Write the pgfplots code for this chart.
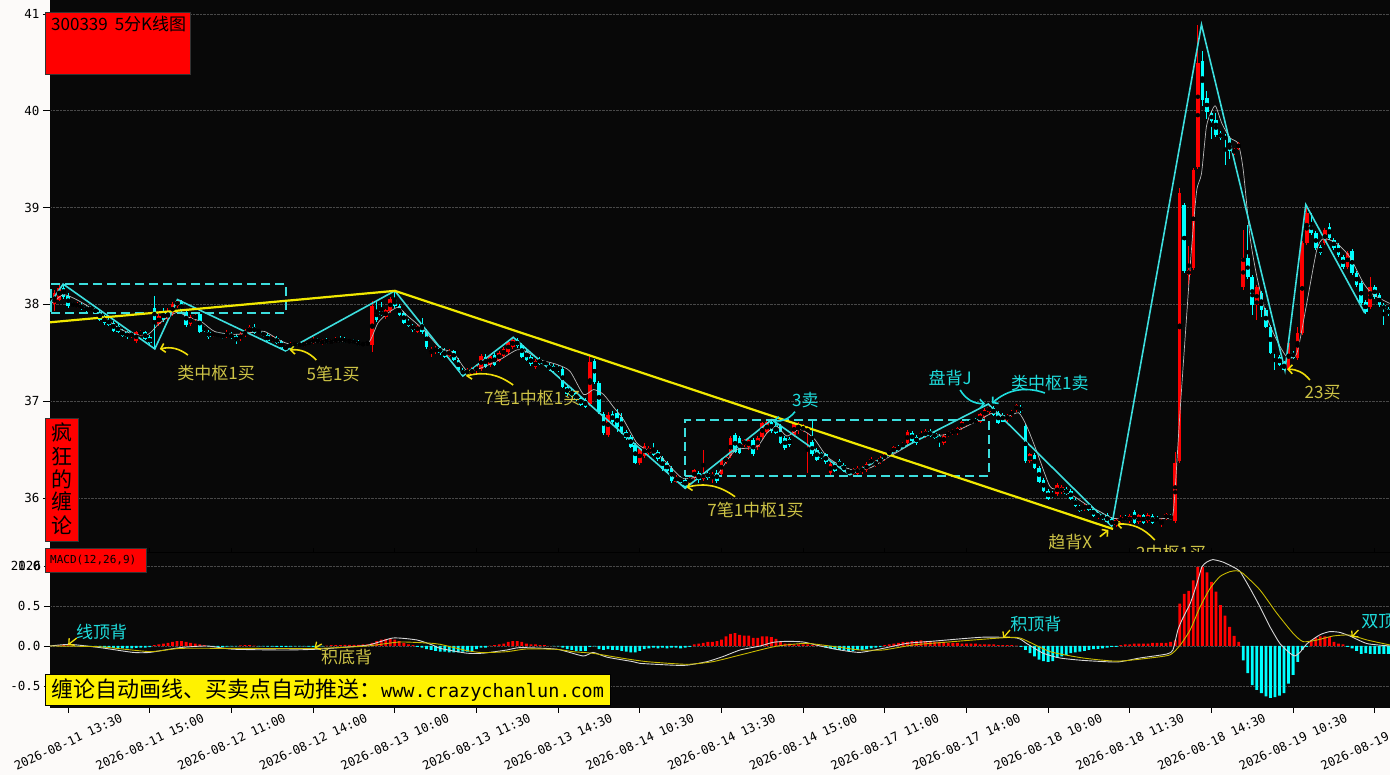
\documentclass[border=0pt]{standalone}
\usepackage{fontspec}
\setmainfont{Noto Sans CJK SC}
\newfontfamily\monofont{DejaVu Sans Mono}
\usepackage{pgfplots}
\pgfplotsset{compat=1.18}
\usepackage{pgfplotstable}
\usetikzlibrary{arrows.meta}

\definecolor{bg}{RGB}{252,250,249}
\definecolor{panel}{RGB}{8,8,8}
\definecolor{kred}{RGB}{255,0,0}
\definecolor{kcyan}{RGB}{0,255,255}
\definecolor{bicyan}{RGB}{60,222,222}
\definecolor{trend}{RGB}{240,232,0}
\definecolor{arrowy}{RGB}{240,222,10}
\definecolor{laby}{RGB}{205,195,70}
\definecolor{labc}{RGB}{30,222,222}
\definecolor{gridc}{RGB}{72,72,72}
\definecolor{maline}{RGB}{185,185,185}
\definecolor{difc}{RGB}{215,215,215}
\definecolor{deac}{RGB}{200,185,0}

\pgfplotstableread{
i o h l c
1 38.00 38.15 37.93 38.12
2 38.05 38.21 38.03 38.17
3 38.17 38.21 38.06 38.08
4 38.09 38.12 37.96 37.98
5 38.01 38.03 37.97 37.98
6 37.98 38.02 37.96 38.00
7 37.99 38.01 37.94 37.96
8 37.97 37.99 37.92 37.94
9 37.96 37.98 37.93 37.95
10 37.96 37.97 37.90 37.91
11 37.92 37.94 37.83 37.84
12 37.87 37.89 37.79 37.81
13 37.84 37.86 37.78 37.79
14 37.81 37.83 37.72 37.73
15 37.78 37.80 37.70 37.71
16 37.73 37.75 37.66 37.67
17 37.71 37.73 37.64 37.66
18 37.67 37.72 37.65 37.70
19 37.62 37.73 37.60 37.71
20 37.69 37.74 37.67 37.72
21 37.71 37.73 37.63 37.64
22 37.66 37.68 37.58 37.60
23 37.96 38.09 37.54 37.84
24 37.80 37.90 37.78 37.88
25 37.92 37.96 37.82 37.84
26 37.85 37.96 37.83 37.92
27 37.90 38.02 37.88 38.00
28 37.98 38.06 37.96 38.04
29 38.03 38.05 37.90 37.93
30 37.92 37.95 37.77 37.79
31 37.80 37.89 37.78 37.87
32 37.85 37.91 37.83 37.89
33 37.90 37.92 37.70 37.71
34 37.76 37.78 37.72 37.73
35 37.72 37.74 37.64 37.66
36 37.68 37.72 37.66 37.71
37 37.70 37.71 37.66 37.67
38 37.69 37.70 37.64 37.66
39 37.67 37.74 37.65 37.70
40 37.69 37.71 37.64 37.66
41 37.67 37.69 37.59 37.62
42 37.64 37.71 37.62 37.69
43 37.68 37.75 37.66 37.72
44 37.71 37.79 37.69 37.77
45 37.77 37.80 37.69 37.70
46 37.73 37.75 37.70 37.71
47 37.71 37.73 37.66 37.67
48 37.68 37.70 37.61 37.62
49 37.63 37.67 37.61 37.65
50 37.65 37.67 37.59 37.60
51 37.62 37.63 37.53 37.54
52 37.54 37.58 37.52 37.57
53 37.56 37.61 37.55 37.59
54 37.58 37.61 37.56 37.60
55 37.60 37.61 37.56 37.57
56 37.57 37.62 37.56 37.60
57 37.59 37.63 37.58 37.62
58 37.60 37.66 37.59 37.64
59 37.63 37.65 37.60 37.61
60 37.60 37.64 37.58 37.63
61 37.63 37.65 37.59 37.60
62 37.60 37.64 37.59 37.63
63 37.61 37.66 37.60 37.64
64 37.64 37.67 37.60 37.61
65 37.64 37.66 37.60 37.61
66 37.61 37.64 37.60 37.63
67 37.63 37.64 37.59 37.60
68 37.61 37.63 37.57 37.58
69 37.60 37.61 37.57 37.58
70 37.60 37.62 37.58 37.59
71 37.58 38.03 37.51 37.98
72 37.94 38.03 37.82 37.84
73 37.93 38.02 37.88 37.89
74 37.87 37.95 37.85 37.94
75 37.93 38.08 37.91 38.06
76 38.06 38.14 37.96 37.98
77 37.98 38.00 37.88 37.89
78 37.91 37.93 37.80 37.81
79 37.83 37.85 37.77 37.78
80 37.78 37.80 37.72 37.74
81 37.72 37.80 37.70 37.78
82 37.80 37.86 37.69 37.71
83 37.73 37.75 37.54 37.56
84 37.50 37.56 37.46 37.54
85 37.51 37.57 37.49 37.55
86 37.55 37.57 37.48 37.50
87 37.52 37.55 37.45 37.46
88 37.47 37.54 37.46 37.52
89 37.52 37.53 37.42 37.43
90 37.43 37.45 37.31 37.32
91 37.32 37.34 37.26 37.28
92 37.28 37.34 37.27 37.32
93 37.28 37.35 37.27 37.33
94 37.31 37.38 37.29 37.36
95 37.33 37.49 37.31 37.47
96 37.46 37.49 37.34 37.35
97 37.37 37.49 37.35 37.47
98 37.48 37.50 37.36 37.37
99 37.42 37.52 37.40 37.50
100 37.47 37.56 37.45 37.54
101 37.51 37.63 37.49 37.61
102 37.56 37.66 37.54 37.63
103 37.63 37.65 37.55 37.57
104 37.58 37.60 37.45 37.46
105 37.52 37.54 37.42 37.43
106 37.46 37.48 37.36 37.38
107 37.35 37.44 37.33 37.42
108 37.44 37.46 37.37 37.38
109 37.41 37.43 37.37 37.38
110 37.37 37.39 37.31 37.33
111 37.36 37.38 37.29 37.31
112 37.35 37.37 37.30 37.32
113 37.33 37.35 37.14 37.15
114 37.15 37.17 37.05 37.07
115 37.11 37.13 37.04 37.05
116 37.08 37.10 37.00 37.01
117 37.03 37.05 36.95 36.96
118 37.01 37.03 36.93 36.94
119 36.97 37.48 36.95 37.41
120 37.42 37.44 37.18 37.20
121 37.19 37.21 36.87 36.89
122 36.87 36.89 36.65 36.67
123 36.65 36.89 36.63 36.86
124 36.87 36.90 36.76 36.79
125 36.88 36.92 36.68 36.73
126 36.84 36.88 36.66 36.68
127 36.68 36.70 36.60 36.62
128 36.63 36.65 36.52 36.53
129 36.55 36.57 36.35 36.36
130 36.36 36.53 36.34 36.51
131 36.43 36.57 36.41 36.54
132 36.46 36.54 36.44 36.52
133 36.52 36.57 36.43 36.44
134 36.48 36.50 36.38 36.40
135 36.41 36.43 36.28 36.30
136 36.36 36.38 36.26 36.28
137 36.31 36.33 36.16 36.18
138 36.17 36.24 36.15 36.22
139 36.21 36.23 36.15 36.16
140 36.19 36.21 36.10 36.11
141 36.16 36.22 36.14 36.21
142 36.21 36.30 36.19 36.29
143 36.26 36.28 36.15 36.19
144 36.20 36.50 36.18 36.25
145 36.26 36.28 36.19 36.21
146 36.20 36.27 36.16 36.25
147 36.26 36.29 36.15 36.18
148 36.25 36.41 36.22 36.39
149 36.37 36.44 36.35 36.42
150 36.43 36.64 36.41 36.62
151 36.65 36.67 36.46 36.48
152 36.62 36.64 36.45 36.46
153 36.55 36.61 36.53 36.60
154 36.53 36.62 36.50 36.60
155 36.60 36.62 36.43 36.45
156 36.53 36.64 36.50 36.62
157 36.63 36.78 36.61 36.77
158 36.68 36.80 36.66 36.79
159 36.79 36.81 36.67 36.69
160 36.74 36.77 36.66 36.67
161 36.74 36.76 36.56 36.57
162 36.62 36.64 36.50 36.52
163 36.61 36.63 36.53 36.55
164 36.65 36.79 36.63 36.77
165 36.72 36.78 36.66 36.75
166 36.70 36.76 36.68 36.74
167 36.68 36.74 36.26 36.72
168 36.58 36.81 36.43 36.45
169 36.50 36.52 36.38 36.39
170 36.46 36.48 36.40 36.41
171 36.45 36.47 36.35 36.37
172 36.26 36.37 36.24 36.35
173 36.35 36.37 36.27 36.28
174 36.38 36.40 36.31 36.32
175 36.34 36.36 36.27 36.28
176 36.29 36.31 36.24 36.25
177 36.25 36.31 36.24 36.29
178 36.25 36.33 36.24 36.31
179 36.27 36.33 36.25 36.31
180 36.29 36.37 36.27 36.35
181 36.36 36.42 36.34 36.40
182 36.34 36.39 36.32 36.38
183 36.37 36.43 36.35 36.41
184 36.40 36.47 36.38 36.45
185 36.45 36.50 36.43 36.49
186 36.47 36.54 36.45 36.53
187 36.53 36.55 36.48 36.50
188 36.53 36.58 36.51 36.57
189 36.57 36.70 36.55 36.68
190 36.67 36.69 36.58 36.59
191 36.63 36.65 36.55 36.57
192 36.63 36.69 36.61 36.67
193 36.64 36.71 36.62 36.69
194 36.69 36.71 36.63 36.64
195 36.67 36.69 36.61 36.62
196 36.64 36.66 36.53 36.59
197 36.57 36.66 36.55 36.64
198 36.65 36.69 36.63 36.68
199 36.67 36.71 36.65 36.70
200 36.67 36.73 36.65 36.72
201 36.72 36.80 36.70 36.79
202 36.75 36.82 36.73 36.80
203 36.80 36.82 36.76 36.77
204 36.81 36.83 36.76 36.77
205 36.79 36.88 36.77 36.87
206 36.84 36.93 36.82 36.91
207 36.89 36.97 36.87 36.94
208 36.93 36.95 36.85 36.86
209 36.88 36.90 36.76 36.77
210 36.86 36.88 36.78 36.79
211 36.81 36.87 36.79 36.85
212 36.86 36.91 36.84 36.89
213 36.91 36.97 36.89 36.96
214 36.94 36.96 36.88 36.90
215 36.74 36.76 36.36 36.38
216 36.38 36.46 36.36 36.45
217 36.44 36.46 36.30 36.31
218 36.31 36.33 36.16 36.17
219 36.19 36.21 36.06 36.07
220 36.07 36.09 35.98 35.99
221 36.05 36.07 36.00 36.01
222 36.04 36.15 36.02 36.13
223 36.06 36.13 36.04 36.11
224 36.09 36.11 36.03 36.04
225 36.07 36.09 35.98 35.99
226 35.98 36.00 35.91 35.92
227 35.91 35.93 35.86 35.87
228 35.89 35.94 35.87 35.92
229 35.93 35.95 35.87 35.88
230 35.89 35.91 35.80 35.81
231 35.80 35.86 35.78 35.84
232 35.83 35.85 35.77 35.78
233 35.82 35.84 35.74 35.75
234 35.78 35.80 35.70 35.71
235 35.72 35.79 35.70 35.77
236 35.76 35.82 35.74 35.80
237 35.80 35.82 35.76 35.78
238 35.76 35.83 35.74 35.81
239 35.86 35.88 35.73 35.74
240 35.75 35.83 35.73 35.82
241 35.82 35.84 35.73 35.74
242 35.76 35.84 35.74 35.82
243 35.81 35.83 35.73 35.74
244 35.79 35.81 35.75 35.76
245 35.74 35.79 35.70 35.77
246 35.79 35.85 35.77 35.83
247 35.82 35.84 35.77 35.78
248 35.76 36.48 35.74 36.36
249 36.38 39.20 36.36 39.15
250 39.03 39.05 38.32 38.34
251 38.30 38.60 38.20 38.36
252 38.38 39.41 38.36 39.39
253 39.42 40.89 39.40 40.49
254 40.51 40.62 40.05 40.11
255 40.13 40.20 39.92 39.99
256 39.98 40.00 39.71 39.89
257 39.90 39.98 39.73 39.75
258 39.77 39.79 39.70 39.72
259 39.73 39.76 39.44 39.71
260 39.72 39.74 39.50 39.58
261 39.56 39.62 39.54 39.61
262 39.61 39.68 39.59 39.67
263 38.18 38.77 38.15 38.48
264 38.48 38.82 38.26 38.28
265 38.28 38.30 37.89 37.99
266 37.99 38.20 37.84 38.18
267 38.12 38.14 37.87 37.94
268 37.94 37.96 37.76 37.77
269 37.77 37.79 37.49 37.50
270 37.52 37.53 37.32 37.50
271 37.46 37.48 37.36 37.37
272 37.39 37.42 37.31 37.32
273 37.32 37.63 37.31 37.60
274 37.50 37.52 37.44 37.45
275 37.45 37.77 37.43 37.70
276 37.70 38.65 37.68 38.63
277 38.63 39.03 38.61 38.94
278 38.84 38.94 38.72 38.74
279 38.74 38.76 38.56 38.58
280 38.59 38.61 38.51 38.53
281 38.63 38.79 38.61 38.77
282 38.80 38.84 38.67 38.69
283 38.67 38.69 38.56 38.58
284 38.61 38.63 38.49 38.51
285 38.49 38.51 38.37 38.39
286 38.39 38.55 38.37 38.53
287 38.55 38.57 38.30 38.32
288 38.32 38.34 38.18 38.20
289 38.22 38.24 37.99 38.01
290 38.03 38.05 37.90 37.92
291 37.97 38.28 37.95 38.18
292 38.18 38.20 38.06 38.08
293 38.10 38.12 37.97 37.99
294 37.99 38.01 37.79 37.95
295 37.95 37.97 37.88 37.90
}\kdata

\pgfplotstableread{
i m
1 0.005
2 0.008
3 0.01
4 0.008
5 0.005
6 -0.003
7 -0.005
8 -0.008
9 -0.01
10 -0.01
11 -0.015
12 -0.02
13 -0.02
14 -0.025
15 -0.03
16 -0.03
17 -0.03
18 -0.03
19 -0.025
20 -0.02
21 -0.02
22 -0.015
23 0.01
24 0.02
25 0.03
26 0.04
27 0.05
28 0.06
29 0.06
30 0.05
31 0.04
32 0.03
33 0.02
34 0.01
35 -0.005
36 -0.01
37 -0.01
38 -0.01
39 -0.008
40 -0.005
41 -0.005
42 0.008
43 0.01
44 0.01
45 0.005
46 -0.005
47 -0.005
48 -0.008
49 -0.008
50 -0.01
51 -0.01
52 -0.01
53 -0.008
54 -0.005
55 -0.005
56 -0.005
57 -0.008
58 -0.01
59 -0.008
60 -0.005
61 0.005
62 0.01
63 0.01
64 0.012
65 0.015
66 0.015
67 0.015
68 0.015
69 0.02
70 0.02
71 0.04
72 0.06
73 0.08
74 0.09
75 0.09
76 0.08
77 0.06
78 0.04
79 0.02
80 0.01
81 -0.01
82 -0.02
83 -0.04
84 -0.05
85 -0.06
86 -0.07
87 -0.07
88 -0.08
89 -0.08
90 -0.08
91 -0.07
92 -0.07
93 -0.06
94 -0.04
95 -0.02
96 -0.02
97 0.005
98 0.01
99 0.02
100 0.03
101 0.05
102 0.06
103 0.06
104 0.05
105 0.03
106 0.02
107 0.02
108 0.01
109 0.01
110 0.003
111 -0.003
112 -0.005
113 -0.02
114 -0.04
115 -0.05
116 -0.06
117 -0.06
118 -0.06
119 -0.01
120 -0.005
121 -0.04
122 -0.05
123 -0.04
124 -0.05
125 -0.05
126 -0.06
127 -0.07
128 -0.08
129 -0.08
130 -0.06
131 -0.04
132 -0.03
133 -0.02
134 -0.03
135 -0.02
136 -0.03
137 -0.02
138 -0.02
139 -0.03
140 -0.02
141 -0.01
142 0.02
143 0.03
144 0.04
145 0.05
146 0.05
147 0.06
148 0.08
149 0.12
150 0.15
151 0.16
152 0.14
153 0.13
154 0.13
155 0.10
156 0.10
157 0.12
158 0.12
159 0.11
160 0.09
161 0.05
162 0.03
163 0.03
164 0.02
165 0.02
166 0.02
167 0.02
168 0.01
169 0.01
170 0.005
171 -0.02
172 -0.03
173 -0.04
174 -0.05
175 -0.05
176 -0.06
177 -0.06
178 -0.05
179 -0.05
180 -0.04
181 -0.03
182 -0.02
183 -0.01
184 0.01
185 0.02
186 0.03
187 0.04
188 0.05
189 0.05
190 0.06
191 0.06
192 0.07
193 0.06
194 0.06
195 0.05
196 0.05
197 0.05
198 0.04
199 0.04
200 0.04
201 0.03
202 0.03
203 0.03
204 0.03
205 0.02
206 0.02
207 0.02
208 0.02
209 0.01
210 0.01
211 0.01
212 0.01
213 0.005
214 -0.01
215 -0.05
216 -0.09
217 -0.13
218 -0.17
219 -0.19
220 -0.20
221 -0.19
222 -0.15
223 -0.13
224 -0.11
225 -0.09
226 -0.08
227 -0.07
228 -0.06
229 -0.05
230 -0.04
231 -0.035
232 -0.03
233 -0.02
234 -0.01
235 -0.01
236 0.01
237 0.02
238 0.02
239 0.03
240 0.03
241 0.03
242 0.03
243 0.04
244 0.04
245 0.04
246 0.04
247 0.05
248 0.07
249 0.53
250 0.65
251 0.69
252 0.82
253 0.99
254 0.99
255 0.92
256 0.80
257 0.68
258 0.51
259 0.38
260 0.24
261 0.125
262 0.05
263 -0.18
264 -0.34
265 -0.49
266 -0.55
267 -0.59
268 -0.63
269 -0.65
270 -0.64
271 -0.62
272 -0.59
273 -0.47
274 -0.36
275 -0.20
276 -0.05
277 -0.01
278 0.07
279 0.10
280 0.12
281 0.12
282 0.11
283 0.05
284 0.03
285 0.02
286 -0.01
287 -0.03
288 -0.06
289 -0.10
290 -0.09
291 -0.10
292 -0.10
293 -0.10
294 -0.10
295 -0.10
}\macdhist

\tikzset{
  ylab/.style={text=laby, font=\fontsize{17}{18}\selectfont, inner sep=0pt},
  clab/.style={text=labc, font=\fontsize{17}{18}\selectfont, inner sep=0pt},
  yarr/.style={arrowy, line width=1.6pt, -{Straight Barb[length=4pt,width=9pt]}},
  carr/.style={labc, line width=1.6pt, -{Straight Barb[length=4pt,width=9pt]}},
}

\begin{document}
\begin{tikzpicture}[x=1pt,y=1pt]
\fill[bg] (0,0) rectangle (1390,775);
\useasboundingbox (0,0) rectangle (1390,775);

% ---------------- price panel ----------------
\begin{axis}[
  at={(50pt,222pt)}, anchor=south west,
  width=1340pt, height=553pt, scale only axis,
  xmin=0, xmax=295.35, ymin=35.432, ymax=41.1446,
  axis background/.style={fill=panel},
  axis line style={panel},
  xtick=\empty,
  ytick={36,37,38,39,40,41}, yticklabels={36,37,38,39,40,41},
  ytick pos=left, tick align=outside, major tick length=7pt,
  tick style={black, line width=0.8pt},
  yticklabel style={font=\monofont\fontsize{12.5}{14}\selectfont, text=black},
  ymajorgrids, major grid style={gridc, densely dotted, line width=0.9pt},
]
% wicks and bodies
\addplot[only marks, mark=none, forget plot,
  restrict expr to domain={\thisrow{c}-\thisrow{o}}{0:100},
  error bars/.cd, y dir=both, y explicit, error mark=none,
  error bar style={draw=kred, line width=1pt}]
  table[x=i, y expr={(\thisrow{h}+\thisrow{l})/2}, y error expr={(\thisrow{h}-\thisrow{l})/2}]{\kdata};
\addplot[only marks, mark=none, forget plot,
  restrict expr to domain={\thisrow{c}-\thisrow{o}}{-100:-0.0001},
  error bars/.cd, y dir=both, y explicit, error mark=none,
  error bar style={draw=kcyan, line width=1pt}]
  table[x=i, y expr={(\thisrow{h}+\thisrow{l})/2}, y error expr={(\thisrow{h}-\thisrow{l})/2}]{\kdata};
\addplot[only marks, mark=none, forget plot,
  restrict expr to domain={\thisrow{c}-\thisrow{o}}{0:100},
  error bars/.cd, y dir=both, y explicit, error mark=none,
  error bar style={draw=kred, line width=3.6pt}]
  table[x=i, y expr={(\thisrow{o}+\thisrow{c})/2}, y error expr={max(abs(\thisrow{c}-\thisrow{o})/2,0.008)}]{\kdata};
\addplot[only marks, mark=none, forget plot,
  restrict expr to domain={\thisrow{c}-\thisrow{o}}{-100:-0.0001},
  error bars/.cd, y dir=both, y explicit, error mark=none,
  error bar style={draw=kcyan, line width=3.6pt}]
  table[x=i, y expr={(\thisrow{o}+\thisrow{c})/2}, y error expr={max(abs(\thisrow{c}-\thisrow{o})/2,0.008)}]{\kdata};

% moving average
\addplot[maline, line width=0.7pt, smooth, tension=0.4] coordinates {
(0.3,38.01) (2.9,38.10) (5.4,38.06) (8.4,37.98) (12,37.86) (15.7,37.74) (18.7,37.69) (21.6,37.69) (23.8,37.79) (26,37.87) (28.2,37.92) (30.4,37.87) (33.4,37.82) (36.3,37.72) (40.7,37.69) (44.4,37.71) (47.3,37.72) (51,37.62) (53.9,37.58) (58.3,37.61) (65.7,37.62) (70.1,37.60) (72.3,37.81) (74.5,37.91) (76.7,37.97) (78.6,37.89) (82.3,37.74) (86,37.55) (88.9,37.50) (91.8,37.32) (94.8,37.34) (99.2,37.43) (102.9,37.53) (105.1,37.51) (108,37.43) (111.7,37.38) (114.6,37.31) (117.6,37.07) (119.8,37.12) (122,37.07) (124.2,36.94) (126.4,36.81) (129.3,36.57) (131.5,36.50) (134.5,36.43) (137.4,36.29) (139.6,36.20) (143.3,36.22) (147,36.24) (149.1,36.38) (151.3,36.50) (155.8,36.53) (158,36.67) (160.2,36.74) (162.4,36.64) (165.3,36.71) (168.3,36.62) (171.2,36.43) (174.1,36.34) (177,36.29) (180.7,36.31) (184.4,36.41) (188.8,36.53) (193.2,36.65) (196.9,36.65) (200.6,36.71) (205,36.81) (207.9,36.88) (210.9,36.84) (213.5,36.88) (215.3,36.74) (217.5,36.48) (220.4,36.12) (222.6,36.09) (225.6,36.02) (228.5,35.93) (231.4,35.86) (234.4,35.79) (238.8,35.79) (246.1,35.79) (247.6,35.86) (249.1,36.91) (251.3,38.39) (252.7,39.16) (253.8,39.35) (254.9,39.84) (256,39.99) (256.9,40.05) (258.3,39.87) (260.1,39.72) (261.9,39.66) (263,39.39) (264.5,38.70) (266,38.29) (268.2,37.87) (270.4,37.63) (272.6,37.46) (274.8,37.49) (277,38.01) (279.2,38.56) (280.7,38.68) (283.6,38.63) (286.5,38.49) (289.5,38.22) (291.7,38.10) (295.3,38.01)};

% bi (zigzag) lines
\addplot[bicyan, line width=1.6pt] coordinates {
(0,38.01) (2.9,38.21) (23.1,37.54) (28.1,38.05) (51.9,37.52) (76,38.14) (91,37.26) (102.1,37.66) (140,36.10) (159.1,36.81) (176.3,36.24) (206.8,36.97) (234,35.71) (253.8,40.89) (272.2,37.32) (276.8,39.03) (289.8,37.91)};

% zhongshu boxes
\addplot[bicyan, line width=2pt, dash pattern=on 9pt off 5pt] coordinates {
(0.3,37.91) (52.1,37.91) (52.1,38.21) (0.3,38.21) (0.3,37.91)};
\addplot[bicyan, line width=2pt, dash pattern=on 9pt off 5pt] coordinates {
(140.0,36.23) (207.0,36.23) (207.0,36.81) (140.0,36.81) (140.0,36.23)};

% trend lines
\addplot[trend, line width=2.2pt] coordinates {(0,37.815) (76,38.14) (234.3,35.68)};

% annotations
\draw[yarr] (axis cs:30.4,37.477) to[bend right=25] (axis cs:24.2,37.539);
\node[ylab] at (axis cs:36.6,37.29) {类中枢1买};
\draw[yarr] (axis cs:58.7,37.426) to[bend right=25] (axis cs:52.8,37.529);
\node[ylab] at (axis cs:62.4,37.28) {5笔1买};
\draw[yarr] (axis cs:102.1,37.167) to[bend right=25] (axis cs:91.7,37.26);
\node[ylab] at (axis cs:106.3,37.03) {7笔1中枢1买};
\draw[yarr] (axis cs:151.0,36.013) to[bend right=25] (axis cs:140.3,36.11);
\node[ylab] at (axis cs:155.5,35.88) {7笔1中枢1买};
\draw[carr] (axis cs:164.2,36.892) to[bend left=30] (axis cs:159.4,36.80);
\node[clab] at (axis cs:166.5,37.01) {3卖};
\draw[carr] (axis cs:200.6,37.116) to[bend right=30] (axis cs:206.1,36.975);
\node[clab] at (axis cs:198.4,37.24) {盘背J};
\draw[carr] (axis cs:219.3,37.085) to[bend right=30] (axis cs:207.6,36.978);
\node[clab] at (axis cs:220.4,37.183) {类中枢1卖};
\draw[yarr] (axis cs:231.4,35.60) -- (axis cs:233.3,35.67);
\node[ylab] at (axis cs:224.9,35.55) {趋背X};
\draw[yarr] (axis cs:243.5,35.566) to[bend right=25] (axis cs:235.0,35.731);
\node[ylab] at (axis cs:247.1,35.43) {2中枢1买};
\draw[yarr] (axis cs:277.7,37.219) to[bend right=25] (axis cs:272.7,37.33);
\node[ylab] at (axis cs:280.5,37.09) {23买};

% panel separator with inner ticks
\draw[black, line width=1pt] (rel axis cs:0,0) -- (rel axis cs:1,0);
\pgfplotsinvokeforeach{4,22,40,58,76,94,112,130,148,166,184,202,220,238,256,274,292}{
  \draw[black, line width=0.8pt] (axis cs:#1,35.432) -- ++(0pt,5pt);
}
\end{axis}

% ---------------- MACD panel ----------------
\begin{axis}[
  at={(50pt,68pt)}, anchor=south west,
  width=1340pt, height=154pt, scale only axis,
  xmin=0, xmax=295.35, ymin=-0.7625, ymax=1.1625,
  axis background/.style={fill=panel},
  axis line style={panel},
  ytick={-0.5,0,0.5,1}, yticklabels={-0.5,0.0,0.5,1.0},
  xtick={4,22,40,58,76,94,112,130,148,166,184,202,220,238,256,274,292},
  xticklabels={2026-08-11 13:30,2026-08-11 15:00,2026-08-12 11:00,2026-08-12 14:00,2026-08-13 10:00,2026-08-13 11:30,2026-08-13 14:30,2026-08-14 10:30,2026-08-14 13:30,2026-08-14 15:00,2026-08-17 11:00,2026-08-17 14:00,2026-08-18 10:00,2026-08-18 11:30,2026-08-18 14:30,2026-08-19 10:30,2026-08-19 13:30},
  xtick pos=left, ytick pos=left, tick align=outside, major tick length=6pt,
  tick style={black, line width=0.8pt},
  yticklabel style={font=\monofont\fontsize{12.5}{14}\selectfont, text=black},
  xticklabel style={font=\monofont\fontsize{12.2}{14}\selectfont, text=black, yshift=-29pt, rotate=25, anchor=center},
  ymajorgrids, major grid style={gridc, densely dotted, line width=0.9pt},
]
\addplot[ybar, bar width=2.8pt, bar shift=0pt, fill=kred, draw=none, restrict y to domain=0:5] table[x=i,y=m]{\macdhist};
\addplot[ybar, bar width=2.8pt, bar shift=0pt, fill=kcyan, draw=none, restrict y to domain=-5:0] table[x=i,y=m]{\macdhist};
% DIF
\addplot[difc, line width=0.9pt, smooth, tension=0.35] coordinates {
(0,0) (4.4,0.02) (11,-0.02) (18.3,-0.08) (22,-0.08) (28.7,-0.02) (34.6,0) (40.3,-0.04) (51.4,-0.05) (58.8,-0.04) (69.9,0.01) (75.6,0.10) (80.9,0.075) (84.4,0.01) (86,-0.03) (91.9,-0.09) (95.4,-0.09) (100.7,-0.05) (103.6,-0.02) (111.7,-0.04) (117.5,-0.125) (119.7,-0.08) (122.8,-0.14) (128.5,-0.196) (130,-0.217) (137.3,-0.24) (140.4,-0.24) (144.8,-0.196) (148.3,-0.133) (152.1,-0.05) (156.5,0) (159.4,0.046) (162.4,0.058) (166,0.05) (170.4,-0.008) (174.1,-0.05) (178.5,-0.08) (183.6,-0.03) (188.9,0.033) (194.6,0.06) (205.6,0.11) (213.1,0.10) (215.3,0.03) (218.9,-0.09) (222.6,-0.15) (227.7,-0.18) (235.2,-0.20) (240.2,-0.15) (246.2,-0.10) (247.5,-0.05) (248.6,0.20) (249.7,0.35) (251.3,0.53) (252.8,0.78) (253.9,0.99) (255,1.05) (256.3,1.08) (258.5,1.05) (260.7,0.99) (262.3,0.93) (264.5,0.72) (266.7,0.49) (268.9,0.24) (271.1,0.03) (273.3,-0.09) (274.4,-0.125) (275.5,-0.08) (277.1,0.03) (279.9,0.14) (282.1,0.18) (284.3,0.17) (286.5,0.125) (290.3,0.03) (295.35,0)};
% DEA
\addplot[deac, line width=0.9pt, smooth, tension=0.35] coordinates {
(0,0) (11,-0.01) (22,-0.07) (28.7,-0.03) (40.3,-0.03) (58.8,-0.03) (69.9,0) (77.1,0.05) (84.4,0.033) (86,0.021) (91.9,-0.058) (95.4,-0.083) (100.7,-0.071) (105.1,-0.037) (111.7,-0.042) (115.3,-0.071) (119.7,-0.092) (126.3,-0.154) (131.6,-0.196) (140.4,-0.229) (146.1,-0.196) (152.1,-0.113) (158,-0.029) (160.9,0.004) (166.8,0.033) (174.1,-0.017) (178.5,-0.05) (183.6,-0.05) (190.2,0.0125) (196.2,0.042) (209.4,0.10) (213.8,0.10) (220.4,-0.07) (227.7,-0.15) (235.2,-0.19) (242.5,-0.15) (246.9,-0.11) (249.1,0.01) (251.3,0.20) (253.5,0.49) (255.7,0.72) (257.9,0.87) (260.1,0.93) (261.6,0.94) (262.9,0.91) (266.7,0.70) (270.4,0.41) (274,0.158) (276.2,0.054) (279.3,0.075) (282.8,0.125) (286.5,0.137) (290.3,0.075) (295.35,0.0125)};

\draw[yarr, line width=1.3pt] (axis cs:5.9,0.10) -- (axis cs:4.0,0.015);
\node[clab] at (axis cs:11.4,0.179) {线顶背};
\draw[yarr, line width=1.3pt] (axis cs:59.9,0.025) -- (axis cs:58.3,-0.025);
\node[ylab] at (axis cs:65.4,-0.144) {积底背};
\draw[yarr, line width=1.3pt] (axis cs:211.6,0.20) -- (axis cs:210.1,0.10);
\node[clab] at (axis cs:217.3,0.269) {积顶背};
\draw[yarr, line width=1.3pt] (axis cs:288.4,0.20) -- (axis cs:286.9,0.11);
\node[clab, anchor=west] at (axis cs:289.0,0.3125) {双顶背};
\end{axis}

% ---------------- overlay boxes ----------------
\fill[kred] (45,701) rectangle (190,763);
\draw[black!80, line width=0.8pt] (45,701) rectangle (190,763);
\node[anchor=north west, inner sep=0pt, font=\fontsize{17}{17}\selectfont] at (51,759) {300339\hspace{7pt}5分K线图};

\fill[kred] (45,234) rectangle (78,357);
\draw[black!80, line width=0.8pt] (45,234) rectangle (78,357);
\foreach \ch/\yy in {疯/342, 狂/318.5, 的/296, 缠/273.5, 论/250}
  \node[inner sep=0pt, font=\fontsize{21}{21}\selectfont] at (61.5,\yy) {\ch};

\fill[kred] (45,203) rectangle (146,227);
\draw[black!80, line width=0.8pt] (45,203) rectangle (146,227);
\node[anchor=west, inner sep=0pt, font=\monofont\fontsize{11}{12}\selectfont] at (50,215) {MACD(12,26,9)};

\node[anchor=center, inner sep=0pt, font=\monofont\fontsize{12.5}{14}\selectfont] at (26,209) {2026};

\fill[yellow] (45,69) rectangle (610,100);
\draw[black, line width=1pt] (45,69) rectangle (610,100);
\node[anchor=west, inner sep=0pt] at (51,84.5) {\fontsize{22}{23}\selectfont 缠论自动画线、买卖点自动推送：\monofont\fontsize{18.5}{20}\selectfont www.crazychanlun.com};
\end{tikzpicture}
\end{document}
